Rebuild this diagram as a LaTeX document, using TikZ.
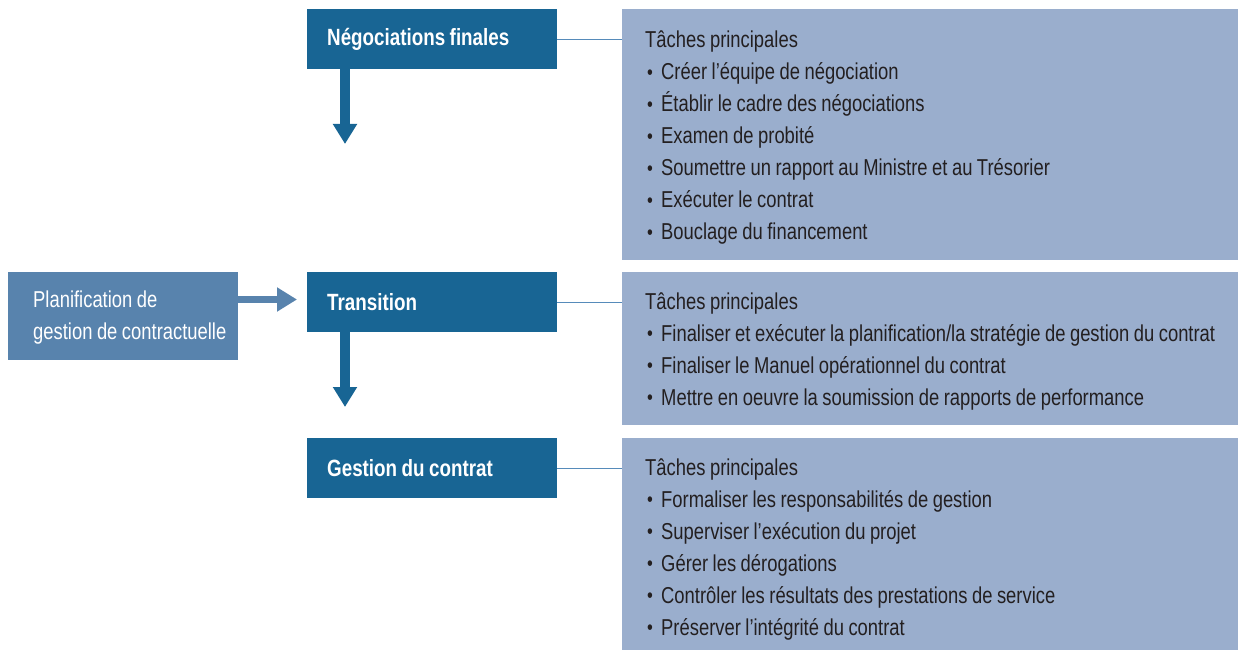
\documentclass[tikz,border=0pt]{standalone}
\usepackage{fontspec}
\usepackage{graphicx}
\setmainfont{Liberation Sans}[FakeStretch=0.8]
\usetikzlibrary{arrows.meta}
\definecolor{darkb}{RGB}{24,101,148}
\definecolor{leftb}{RGB}{88,131,173}
\definecolor{panelc}{RGB}{154,174,205}
\definecolor{linec}{RGB}{86,139,186}
\definecolor{textc}{RGB}{35,31,32}
\newcommand\bul{\hspace*{2pt}\makebox[14pt][l]{\raisebox{0.5pt}{\scalebox{0.9}{•}}}}
\newcommand\tightsp{\fontdimen2\font=4.5pt\fontdimen3\font=1pt\fontdimen4\font=1pt\spaceskip=4.5pt plus 1pt minus 1pt\relax}
\tikzset{
  titlebox/.style={fill=darkb, anchor=north west, minimum width=250pt, minimum height=60pt,
    inner xsep=20pt, inner ysep=0pt, text width=210pt, align=left, text=white,
    font=\bfseries\fontsize{23.5}{28}\selectfont},
  panel/.style={fill=panelc, anchor=north west, inner sep=0pt, minimum width=616pt},
  ptext/.style={anchor=base west, inner sep=0pt, text width=640pt, align=left, text=textc,
    font=\fontsize{23}{32}\selectfont},
  bigarrow/.style={draw=darkb, line width=10pt, -{Triangle[width=23pt,length=20pt]}},
  sidearrow/.style={draw=leftb, line width=7.5pt, -{Triangle[width=23pt,length=20pt]}},
  link/.style={draw=linec, line width=1.2pt}
}
\begin{document}
\begin{tikzpicture}[x=1pt,y=-1pt]
\useasboundingbox (0,0) rectangle (1240,650);
% panels
\node[panel, minimum height=251pt] (p1) at (622,9) {};
\node[panel, minimum height=153pt] (p2) at (622,272) {};
\node[panel, minimum height=212pt] (p3) at (622,438) {};
% title boxes
\node[titlebox] (n1) at (307,9) {\tightsp\raisebox{-1.5pt}{Négociations finales}};
\node[titlebox] (n2) at (307,272) {\tightsp\raisebox{-1.5pt}{Transition}};
\node[titlebox] (n3) at (307,438) {\tightsp\raisebox{-1.5pt}{Gestion du contrat}};
% left box
\node[fill=leftb, anchor=north west, inner sep=0pt, minimum width=230pt, minimum height=88pt] (plan) at (8,272) {};
\node[anchor=base west, inner sep=0pt, text width=220pt, align=left, text=white,
  font=\fontsize{23}{32}\selectfont] (plantext) at (33,307.5) {\tightsp Planification de\\gestion de contractuelle};
% panel texts
\node[ptext] (t1) at (645,48) {\tightsp Tâches principales\\
\bul Créer l’équipe de négociation\\
\bul Établir le cadre des négociations\\
\bul Examen de probité\\
\bul Soumettre un rapport au Ministre et au Trésorier\\
\bul Exécuter le contrat\\
\bul Bouclage du financement};
\node[ptext] (t2) at (645,309) {\tightsp Tâches principales\\
\bul Finaliser et exécuter la planification/la stratégie de gestion du contrat\\
\bul Finaliser le Manuel opérationnel du contrat\\
\bul Mettre en oeuvre la soumission de rapports de performance};
\node[ptext] (t3) at (645,475) {\tightsp Tâches principales\\
\bul Formaliser les responsabilités de gestion\\
\bul Superviser l’exécution du projet\\
\bul Gérer les dérogations\\
\bul Contrôler les résultats des prestations de service\\
\bul Préserver l’intégrité du contrat};
% connectors
\draw[link] (n1.east) -- (n1.east -| p1.west);
\draw[link] (n2.east) -- (n2.east -| p2.west);
\draw[link] (n3.east) -- (n3.east -| p3.west);
\coordinate (d1) at (345,144);
\coordinate (d2) at (345,407);
\coordinate (h1) at (297,299.5);
\draw[bigarrow] (d1 |- n1.south) -- (d1);
\draw[bigarrow] (d2 |- n2.south) -- (d2);
\draw[sidearrow] (plan.east |- h1) -- (h1);
\end{tikzpicture}
\end{document}
